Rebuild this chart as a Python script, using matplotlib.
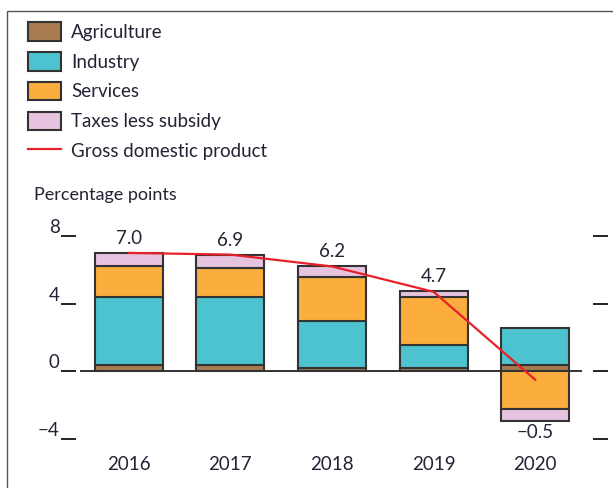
import matplotlib
matplotlib.use("Agg")
import matplotlib.pyplot as plt
from matplotlib.patches import Patch, Rectangle
from matplotlib.lines import Line2D
import numpy as np

plt.rcParams['font.family'] = ['Lato', 'DejaVu Sans']

years = ['2016', '2017', '2018', '2019', '2020']
agriculture = [0.4, 0.4, 0.2, 0.2, 0.35]
industry = [4.0, 4.0, 2.8, 1.35, 2.2]
services = [1.8, 1.7, 2.6, 2.85, -2.25]
taxes = [0.8, 0.8, 0.65, 0.35, -0.7]
gdp = [7.0, 6.9, 6.2, 4.7, -0.5]
gdp_labels = ['7.0', '6.9', '6.2', '4.7', '\u22120.5']
yticks = [-4, 0, 4, 8]
ytick_labels = ['\u22124', '0', '4', '8']

series = [
    ('Agriculture', agriculture, '#A87C50'),
    ('Industry', industry, '#4CC3CE'),
    ('Services', services, '#FBAE3E'),
    ('Taxes less subsidy', taxes, '#E6C3DF'),
]

TXT = '#232334'
EDGE = '#333333'

fig = plt.figure(figsize=(6.13, 4.88), dpi=100)
W, H = 613, 488
ax = fig.add_axes([80 / W, 1 - 439 / H, 502 / W, 203 / H])

x = np.arange(len(years))
pos_bottom = np.zeros(len(years))
neg_bottom = np.zeros(len(years))
for name, vals, col in series:
    vals = np.array(vals, dtype=float)
    bottoms = np.where(vals >= 0, pos_bottom, neg_bottom)
    ax.bar(x, vals, width=0.67, bottom=bottoms, color=col, edgecolor=EDGE,
           linewidth=1.5, zorder=3)
    pos_bottom = np.where(vals >= 0, pos_bottom + vals, pos_bottom)
    neg_bottom = np.where(vals < 0, neg_bottom + vals, neg_bottom)

ax.axhline(0, color='#222222', lw=1.3, zorder=2)
ax.plot(x, gdp, color='#E8202A', lw=1.6, zorder=4)

for i in range(len(years)):
    if gdp[i] >= 0:
        ax.annotate(gdp_labels[i], (x[i], pos_bottom[i]), xytext=(0, 4),
                    textcoords='offset points', ha='center', va='bottom',
                    fontsize=13.5, color=TXT)
    else:
        ax.annotate(gdp_labels[i], (x[i], neg_bottom[i]), xytext=(0, -2),
                    textcoords='offset points', ha='center', va='top',
                    fontsize=13.5, color=TXT)

ax.set_xlim(-0.48, 4.46)
ax.set_ylim(-4, 8)
for s in ax.spines.values():
    s.set_visible(False)
ax.spines['left'].set_position(('outward', 3))
ax.spines['right'].set_position(('outward', 8))

ax.set_yticks(yticks)
ax.set_yticklabels(ytick_labels)
ax.tick_params(axis='y', left=True, right=True, labelleft=True, labelright=False,
               direction='out', length=10.5, width=1.4, color='#222222',
               labelsize=13.5, labelcolor=TXT, pad=1)
for lab in ax.get_yticklabels():
    lab.set_va('bottom')

ax.set_xticks(x)
ax.set_xticklabels(years)
ax.tick_params(axis='x', length=0, labelsize=13.5, labelcolor=TXT, pad=12)

handles = [Patch(facecolor=c, edgecolor=EDGE, linewidth=1.5, label=n) for n, _, c in series]
handles.append(Line2D([], [], color='#E8202A', lw=1.6, label='Gross domestic product'))
fig.legend(handles=handles, loc='upper left', bbox_to_anchor=(28 / W, 1 - 22 / H),
           frameon=False, fontsize=13.5, handlelength=1.75, handleheight=1.15,
           handletextpad=0.55, labelspacing=0.6, borderpad=0, borderaxespad=0,
           labelcolor=TXT)

fig.text(34 / W, 1 - 195 / H, 'Percentage points', fontsize=13, color=TXT,
         ha='left', va='center')

fig.patches.append(Rectangle((7 / W, -0.1), 1.2, 1.1 - 11 / H,
                             transform=fig.transFigure, fill=False,
                             edgecolor='#555555', lw=1.0))

fig.savefig('out.png', dpi=100)
